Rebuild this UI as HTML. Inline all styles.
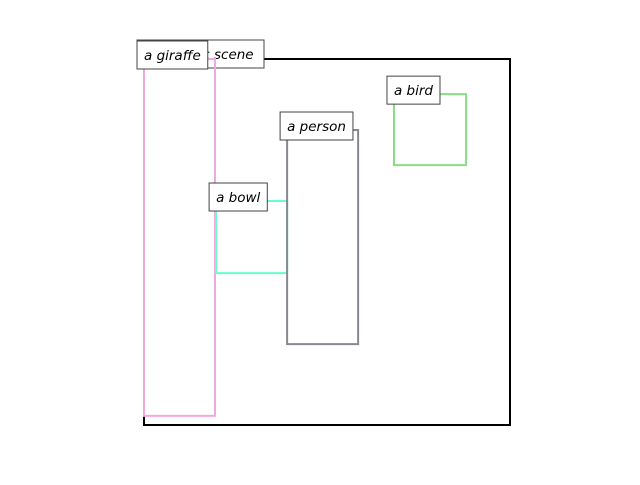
<!DOCTYPE html>
<html><head><style>
body{margin:0;background:#fff}
svg text{font-family:"DejaVu Sans","Liberation Sans",sans-serif;font-style:italic;font-size:13.5px}
</style></head><body>
<svg id="c" width="640" height="480"></svg>
<script>
const labels=["a giraffe","a bowl","a person","a bird"];
const xs=[0,19.7,39.1,68.3];
const ys=[0,38.8,19.4,9.6];
const ws=[19.4,19.4,19.4,19.7];
const hs=[97.5,19.7,58.5,19.4];
const colors=["#f0a8e0","#66ffcc","#888890","#88dd88"];
const sceneLabel="a realistic scene";
const svg=document.getElementById('c');
const NS="http://www.w3.org/2000/svg";
const X=v=>144+v*3.66, Y=v=>59+v*3.66;
function mk(t,a){const e=document.createElementNS(NS,t);for(const k in a)e.setAttribute(k,a[k]);svg.appendChild(e);return e;}
const sc=mk('rect',{x:144,y:59,width:366,height:366,fill:'none',stroke:'#000','stroke-width':2});


const sl=mk('rect',{x:137,y:40,width:127,height:28,fill:'#fff',stroke:'#444'});


const st=mk('text',{x:144,y:59});st.textContent=sceneLabel;


for(let i=0;i<labels.length;i++){
  const r=mk('rect',{x:X(xs[i]),y:Y(ys[i]),width:ws[i]*3.66,height:hs[i]*3.66,fill:'none',stroke:colors[i],'stroke-width':2});
  
  
}
for(let i=0;i<labels.length;i++){
  const lx=X(xs[i])-7, cy=Y(ys[i])-4;
  const t=mk('text',{x:lx+7,y:cy+5});t.textContent=labels[i];
  const w=t.getComputedTextLength()+14;
  const b=mk('rect',{x:lx,y:cy-14,width:w,height:28,fill:'#fff',stroke:'#444'});
  
  
  svg.appendChild(t);
  
  
}
</script>
</body></html>
